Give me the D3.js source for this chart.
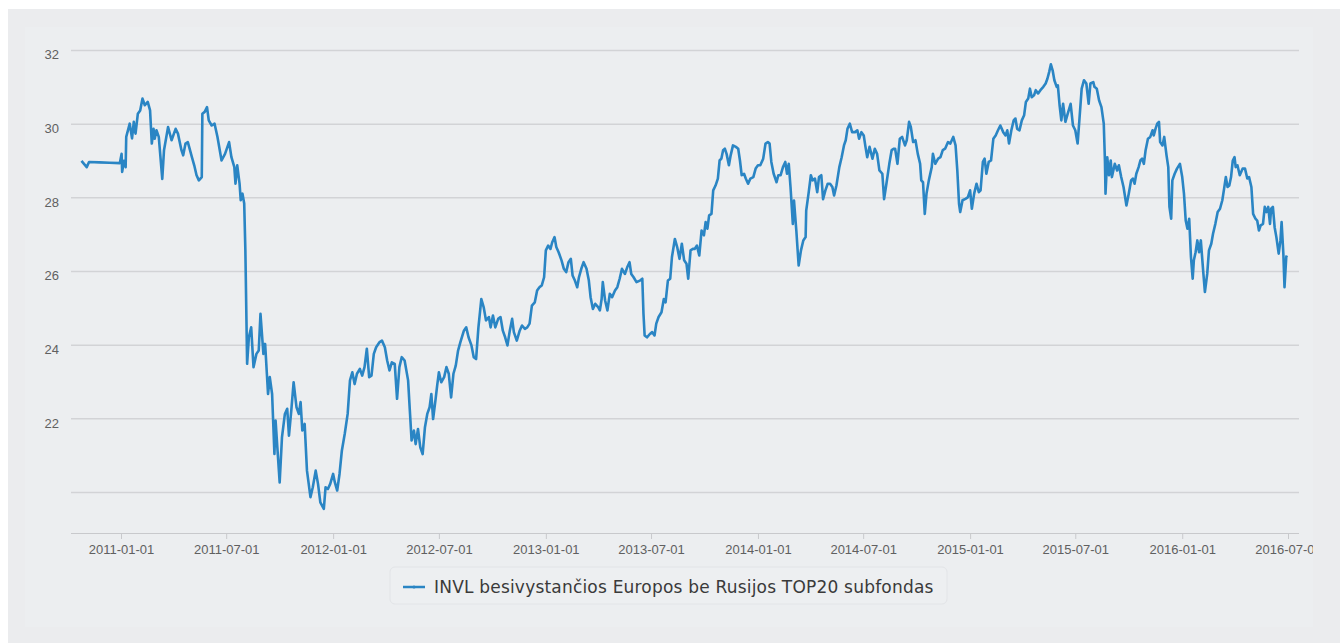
<!DOCTYPE html>
<html>
<head>
<meta charset="utf-8">
<script src="https://cdn.jsdelivr.net/npm/d3@7"></script>
<style>
  body { margin: 0; background: #fff; }
  svg { display: block; }
  .grid line { stroke: #d2d3d6; stroke-width: 1.5; }
  .grid text, .xaxis text { fill: #606060; font-family: "Liberation Sans", Arial, sans-serif; font-size: 13px; }
  .xaxis line { stroke: #c8c9cc; }
</style>
</head>
<body>
<svg id="chart" width="1340" height="643"></svg>
<script>
// one series
const seriesName = "INVL besivystančios Europos be Rusijos TOP20 subfondas";

const dates = [
  "2010-10-25","2010-11-03","2010-11-07","2010-11-25","2010-12-12","2010-12-30",
  "2011-01-02","2011-01-03","2011-01-06","2011-01-09","2011-01-10","2011-01-16","2011-01-20","2011-01-23","2011-01-26","2011-01-30",
  "2011-02-03","2011-02-07","2011-02-11","2011-02-16","2011-02-20","2011-02-23","2011-02-26","2011-02-28",
  "2011-03-03","2011-03-07","2011-03-13","2011-03-16","2011-03-23","2011-03-29",
  "2011-04-05","2011-04-09","2011-04-15","2011-04-18","2011-04-22","2011-04-26",
  "2011-05-03","2011-05-07","2011-05-11","2011-05-15","2011-05-20","2011-05-21","2011-05-25","2011-05-29",
  "2011-06-01","2011-06-06","2011-06-11","2011-06-16","2011-06-23","2011-06-29",
  "2011-07-06","2011-07-10","2011-07-15","2011-07-17","2011-07-20","2011-07-24","2011-07-26","2011-07-29",
  "2011-08-01","2011-08-03","2011-08-06","2011-08-09","2011-08-13","2011-08-17","2011-08-22","2011-08-26","2011-08-29",
  "2011-09-03","2011-09-06","2011-09-09","2011-09-11","2011-09-14","2011-09-18","2011-09-22","2011-09-24","2011-09-27",
  "2011-10-01","2011-10-05","2011-10-10","2011-10-14","2011-10-17","2011-10-21","2011-10-25","2011-10-30",
  "2011-11-03","2011-11-06","2011-11-09","2011-11-13","2011-11-17","2011-11-23","2011-11-27",
  "2011-12-02","2011-12-06","2011-12-10","2011-12-16","2011-12-19","2011-12-23","2011-12-27",
  "2012-01-01","2012-01-04","2012-01-08","2012-01-12","2012-01-16","2012-01-21","2012-01-26","2012-01-30",
  "2012-02-03","2012-02-07","2012-02-11","2012-02-16","2012-02-20","2012-02-24","2012-02-28",
  "2012-03-03","2012-03-07","2012-03-11","2012-03-15","2012-03-21","2012-03-25","2012-03-30",
  "2012-04-03","2012-04-07","2012-04-11","2012-04-16","2012-04-20","2012-04-24","2012-04-28",
  "2012-05-03","2012-05-09","2012-05-12","2012-05-15","2012-05-19","2012-05-22","2012-05-26","2012-05-30",
  "2012-06-03","2012-06-07","2012-06-11","2012-06-15","2012-06-18","2012-06-21","2012-06-25","2012-06-28",
  "2012-07-01","2012-07-05","2012-07-10","2012-07-14","2012-07-18","2012-07-22","2012-07-26","2012-07-30",
  "2012-08-03","2012-08-07","2012-08-13","2012-08-17","2012-08-21","2012-08-26","2012-08-30",
  "2012-09-03","2012-09-07","2012-09-12","2012-09-16","2012-09-20","2012-09-25","2012-09-28",
  "2012-10-02","2012-10-06","2012-10-11","2012-10-15","2012-10-19","2012-10-23","2012-10-27","2012-10-31",
  "2012-11-04","2012-11-07","2012-11-12","2012-11-17","2012-11-21","2012-11-26","2012-11-30",
  "2012-12-04","2012-12-08","2012-12-13","2012-12-17","2012-12-21","2012-12-25","2012-12-29",
  "2013-01-01","2013-01-05","2013-01-09","2013-01-12","2013-01-16","2013-01-19","2013-01-23","2013-01-28",
  "2013-02-01","2013-02-05","2013-02-09","2013-02-13","2013-02-16","2013-02-20","2013-02-24","2013-02-27",
  "2013-03-03","2013-03-07","2013-03-12","2013-03-16","2013-03-19","2013-03-23","2013-03-27",
  "2013-04-01","2013-04-04","2013-04-07","2013-04-09","2013-04-13","2013-04-17","2013-04-21","2013-04-25","2013-04-30",
  "2013-05-04","2013-05-08","2013-05-12","2013-05-17","2013-05-21","2013-05-25","2013-05-28",
  "2013-06-01","2013-06-06","2013-06-12","2013-06-16","2013-06-18","2013-06-20","2013-06-24","2013-06-29",
  "2013-07-03","2013-07-07","2013-07-10","2013-07-14","2013-07-19","2013-07-23","2013-07-26","2013-07-30",
  "2013-08-03","2013-08-06","2013-08-11","2013-08-15","2013-08-19","2013-08-23","2013-08-27","2013-08-31",
  "2013-09-03","2013-09-07","2013-09-11","2013-09-14","2013-09-18","2013-09-22","2013-09-26","2013-09-30",
  "2013-10-03","2013-10-06","2013-10-09","2013-10-13","2013-10-16","2013-10-20","2013-10-24","2013-10-27","2013-10-30",
  "2013-11-02","2013-11-05","2013-11-08","2013-11-12","2013-11-15","2013-11-19","2013-11-24","2013-11-28",
  "2013-12-01","2013-12-04","2013-12-08","2013-12-11","2013-12-15","2013-12-19","2013-12-24","2013-12-28",
  "2014-01-01","2014-01-05","2014-01-10","2014-01-14","2014-01-18","2014-01-21","2014-01-24","2014-01-28",
  "2014-02-02","2014-02-05","2014-02-09","2014-02-13","2014-02-17","2014-02-20","2014-02-23","2014-02-26",
  "2014-03-02","2014-03-04","2014-03-08","2014-03-12","2014-03-16","2014-03-20","2014-03-24","2014-03-25","2014-03-29",
  "2014-04-02","2014-04-05","2014-04-09","2014-04-13","2014-04-16","2014-04-20","2014-04-23","2014-04-27",
  "2014-05-01","2014-05-05","2014-05-09","2014-05-12","2014-05-16","2014-05-21","2014-05-25","2014-05-29",
  "2014-06-01","2014-06-04","2014-06-08","2014-06-12","2014-06-17","2014-06-21","2014-06-24","2014-06-28",
  "2014-07-02","2014-07-05","2014-07-08","2014-07-12","2014-07-17","2014-07-21","2014-07-25","2014-07-29",
  "2014-08-03","2014-08-06","2014-08-10","2014-08-15","2014-08-19","2014-08-23","2014-08-25","2014-08-29",
  "2014-09-02","2014-09-06","2014-09-11","2014-09-14","2014-09-18","2014-09-21","2014-09-25","2014-09-29",
  "2014-10-03","2014-10-07","2014-10-09","2014-10-12","2014-10-15","2014-10-18","2014-10-22","2014-10-27","2014-10-29",
  "2014-11-02","2014-11-07","2014-11-11","2014-11-15","2014-11-19","2014-11-24","2014-11-28",
  "2014-12-03","2014-12-07","2014-12-10","2014-12-13","2014-12-15","2014-12-19","2014-12-24","2014-12-28",
  "2015-01-01","2015-01-04","2015-01-08","2015-01-12","2015-01-16","2015-01-19","2015-01-23","2015-01-26","2015-01-29",
  "2015-02-02","2015-02-06","2015-02-10","2015-02-14","2015-02-18","2015-02-22","2015-02-27",
  "2015-03-03","2015-03-06","2015-03-09","2015-03-13","2015-03-17","2015-03-20","2015-03-23","2015-03-27","2015-03-31",
  "2015-04-04","2015-04-07","2015-04-11","2015-04-14","2015-04-17","2015-04-21","2015-04-24","2015-04-28",
  "2015-05-02","2015-05-07","2015-05-11","2015-05-14","2015-05-17","2015-05-20","2015-05-23","2015-05-26","2015-05-30",
  "2015-06-01","2015-06-04","2015-06-07","2015-06-10","2015-06-14","2015-06-18","2015-06-23","2015-06-27",
  "2015-07-01","2015-07-05","2015-07-08","2015-07-12","2015-07-16","2015-07-20","2015-07-24","2015-07-27",
  "2015-08-01","2015-08-03","2015-08-07","2015-08-11","2015-08-15","2015-08-19","2015-08-21","2015-08-22","2015-08-25","2015-08-28","2015-08-31",
  "2015-09-02","2015-09-07","2015-09-11","2015-09-14","2015-09-18","2015-09-22","2015-09-27",
  "2015-10-01","2015-10-05","2015-10-08","2015-10-11","2015-10-14","2015-10-18","2015-10-21","2015-10-24","2015-10-27","2015-10-30",
  "2015-11-03","2015-11-07","2015-11-11","2015-11-13","2015-11-16","2015-11-19","2015-11-22","2015-11-24","2015-11-28",
  "2015-12-01","2015-12-05","2015-12-08","2015-12-10","2015-12-13","2015-12-15","2015-12-19","2015-12-23","2015-12-28",
  "2016-01-01","2016-01-04","2016-01-07","2016-01-10","2016-01-13","2016-01-16","2016-01-19","2016-01-21","2016-01-24","2016-01-27","2016-01-30",
  "2016-02-02","2016-02-06","2016-02-09","2016-02-13","2016-02-16","2016-02-20","2016-02-23","2016-02-27",
  "2016-03-02","2016-03-06","2016-03-10","2016-03-13","2016-03-16","2016-03-19","2016-03-22","2016-03-25","2016-03-28","2016-03-31",
  "2016-04-02","2016-04-05","2016-04-09","2016-04-14","2016-04-18","2016-04-22","2016-04-25","2016-04-29",
  "2016-05-02","2016-05-06","2016-05-09","2016-05-12","2016-05-15","2016-05-19","2016-05-22","2016-05-25","2016-05-28","2016-05-31",
  "2016-06-02","2016-06-05","2016-06-08","2016-06-11","2016-06-15","2016-06-18","2016-06-20","2016-06-23","2016-06-25","2016-06-28","2016-06-29"
];

const values = [
  28.99,28.82,28.96,28.95,28.94,28.93,
  29.18,28.69,28.99,28.82,29.64,30.0,29.6,30.05,29.73,30.27,
  30.36,30.68,30.5,30.59,30.36,29.46,29.86,29.59,
  29.82,29.64,28.5,29.28,29.91,29.55,
  29.86,29.73,29.28,29.14,29.46,29.5,
  29.09,28.87,28.6,28.46,28.55,30.27,30.32,30.45,
  30.09,29.95,30.0,29.64,29.0,29.18,
  29.5,29.09,28.82,28.37,28.87,28.37,27.92,28.1,
  27.83,26.56,23.48,24.2,24.47,23.39,23.75,23.84,24.84,
  23.75,24.02,23.21,22.66,23.12,22.66,21.03,21.94,21.21,
  20.26,21.49,22.12,22.26,21.53,22.21,22.98,22.3,
  22.12,22.44,21.67,21.85,20.58,19.86,20.13,
  20.58,20.22,19.72,19.54,20.13,20.08,20.22,
  20.49,20.26,20.04,20.49,21.12,21.58,22.12,23.03,
  23.25,22.93,23.21,23.34,23.16,23.39,23.89,
  23.12,23.16,23.75,23.93,24.07,24.11,23.93,
  23.57,23.3,23.52,23.48,22.53,23.39,23.66,
  23.57,23.03,22.21,21.4,21.67,21.3,21.71,21.21,
  21.03,21.76,22.12,22.3,22.66,21.98,22.48,22.89,
  23.25,22.98,23.12,23.39,23.21,22.57,23.21,23.43,
  23.84,24.07,24.38,24.47,24.2,23.98,23.66,
  23.61,24.47,25.24,25.02,24.66,24.75,24.47,
  24.79,24.47,24.7,24.75,24.38,24.2,23.98,24.38,
  24.7,24.34,24.11,24.38,24.52,24.43,24.47,
  24.57,25.06,25.15,25.47,25.56,25.61,25.83,
  26.56,26.69,26.6,26.78,26.92,26.65,26.51,26.29,
  26.06,25.97,26.24,26.33,25.88,25.74,25.56,25.83,
  26.06,26.24,26.06,25.74,25.29,24.97,25.11,
  25.02,24.93,25.24,25.7,25.2,24.93,25.38,25.29,25.47,
  25.56,25.79,26.06,25.92,26.1,26.24,25.92,
  25.83,25.7,25.74,25.79,24.84,24.25,24.2,24.29,
  24.34,24.25,24.57,24.75,24.88,25.24,25.15,25.74,
  25.79,26.38,26.87,26.65,26.33,26.74,26.29,26.2,
  25.79,26.56,26.6,26.6,26.69,26.42,27.1,26.97,
  27.33,27.15,27.51,27.55,28.19,28.32,28.51,29.0,29.05,
  29.28,29.32,29.18,28.87,29.14,29.41,29.37,29.32,
  29.0,28.6,28.64,28.51,28.37,28.51,28.55,28.78,
  28.87,28.87,29.05,29.46,29.5,29.46,28.96,28.64,
  28.41,28.6,28.6,28.82,28.96,28.64,28.91,28.28,
  27.28,27.91,27.1,26.15,26.56,26.83,26.92,27.64,28.1,
  28.6,28.46,28.51,28.14,28.55,28.6,27.95,28.19,
  28.37,28.37,28.28,28.05,28.32,28.82,29.09,29.41,
  29.55,29.86,30.0,29.77,29.77,29.82,29.59,29.77,
  29.68,29.37,29.09,29.37,29.05,29.32,29.18,28.73,
  28.64,27.95,28.37,28.91,29.28,29.32,29.32,28.91,
  29.59,29.64,29.41,29.55,30.05,29.91,29.5,29.55,
  29.18,28.91,28.46,28.41,27.55,28.1,28.46,28.82,29.18,
  28.91,29.05,29.09,29.28,29.32,29.5,29.46,
  29.64,29.41,28.73,27.82,27.6,27.92,27.96,28.0,
  28.19,27.69,28.1,28.37,28.14,28.19,28.96,29.05,28.64,
  28.96,29.0,29.59,29.68,29.82,29.95,29.77,
  29.68,29.82,29.46,29.82,30.09,30.14,29.86,29.82,30.09,
  30.23,30.59,30.68,30.95,30.72,30.77,30.91,30.82,
  30.91,31.0,31.09,31.22,31.4,31.61,31.45,31.18,31.0,
  31.04,30.5,30.09,30.54,30.05,30.27,30.54,29.95,
  29.82,29.46,30.09,30.95,31.18,31.09,30.54,31.09,
  31.13,31.0,30.95,30.63,30.45,30.0,29.0,28.1,29.09,28.6,29.0,
  28.55,28.91,28.73,28.87,28.55,28.28,27.78,
  28.1,28.46,28.51,28.37,28.64,28.82,29.0,29.05,28.91,29.28,
  29.59,29.64,29.82,29.68,29.86,30.0,30.05,29.5,29.41,
  29.64,29.14,28.82,27.74,27.42,28.46,28.64,28.78,28.91,
  28.55,28.1,27.37,27.15,27.42,26.38,25.79,26.29,26.51,26.83,26.51,
  26.83,26.01,25.43,25.92,26.56,26.74,27.01,27.28,
  27.6,27.69,27.92,28.23,28.55,28.28,28.32,28.55,29.0,29.09,
  28.82,28.87,28.6,28.78,28.78,28.51,28.55,28.28,
  27.55,27.42,27.37,27.1,27.24,27.28,27.74,27.6,27.74,27.28,
  27.69,27.74,27.19,26.92,26.47,26.83,27.33,26.47,25.56,26.38,26.42
];

const xTickLabels = ["2011-01-01","2011-07-01","2012-01-01","2012-07-01","2013-01-01","2013-07-01",
  "2014-01-01","2014-07-01","2015-01-01","2015-07-01","2016-01-01","2016-07-01"];
const yGrid = [20, 22, 24, 26, 28, 30, 32];
const yLabels = [22, 24, 26, 28, 30, 32];

const parse = d3.utcParse("%Y-%m-%d");
const data = dates.map((d, i) => ({date: parse(d), value: values[i]}));

const svg = d3.select("#chart");

// backgrounds
svg.append("rect").attr("x", 8).attr("y", 9).attr("width", 1332).attr("height", 634).attr("fill", "#ebecee");
svg.append("rect").attr("x", 25).attr("y", 27).attr("width", 1288).attr("height", 600).attr("fill", "#eceef0");

const plotLeft = 71, plotRight = 1299, axisY = 533;

// x scale pinned so 2011-01-01 and 2016-07-01 land on their ticks
const anchor = d3.scaleUtc().domain([parse("2011-01-01"), parse("2016-07-01")]).range([121, 1288]);
const x = d3.scaleUtc().domain([anchor.invert(plotLeft), anchor.invert(plotRight)]).range([plotLeft, plotRight]);
const y = d3.scaleLinear().domain([20, 32]).range([492, 50]);

svg.append("defs").append("clipPath").attr("id", "clip")
  .append("rect").attr("x", 25).attr("y", 27).attr("width", 1288).attr("height", 600);

const grid = svg.append("g").attr("class", "grid")
  .attr("transform", `translate(${plotLeft},0)`)
  .call(d3.axisLeft(y)
    .tickValues(yGrid)
    .tickSize(-(plotRight - plotLeft))
    .tickPadding(12)
    .tickFormat(d => yLabels.includes(d) ? d : ""));
grid.select(".domain").remove();
grid.selectAll("text").attr("y", 4.5);

// wrapper carries the clip so the last label is cut at the panel edge
const xaxis = svg.append("g").attr("clip-path", "url(#clip)")
  .append("g").attr("class", "xaxis")
  .attr("transform", `translate(0,${axisY})`)
  .call(d3.axisBottom(x)
    .tickValues(xTickLabels.map(parse))
    .tickSize(6)
    .tickPadding(6)
    .tickFormat(d3.utcFormat("%Y-%m-%d")));
xaxis.select(".domain").attr("stroke", "#c8c9cc").attr("d", `M${plotLeft},0.5H${plotRight}`);

const line = d3.line()
  .x(d => x(d.date))
  .y(d => y(d.value));

svg.append("path")
  .datum(data)
  .attr("fill", "none")
  .attr("stroke", "#2a85c4")
  .attr("stroke-width", 2.6)
  .attr("stroke-linejoin", "round")
  .attr("d", line);

// legend
const legend = svg.append("g");
legend.append("rect")
  .attr("x", 390).attr("y", 567).attr("width", 557).attr("height", 37).attr("rx", 5)
  .attr("fill", "#edeff1").attr("stroke", "#e2e4e7");
legend.append("line")
  .attr("x1", 403).attr("x2", 425).attr("y1", 587).attr("y2", 587)
  .attr("stroke", "#2a85c4").attr("stroke-width", 2.5);
legend.append("circle").attr("cx", 414).attr("cy", 587).attr("r", 1.5).attr("fill", "#2a85c4");
legend.append("text")
  .attr("x", 434).attr("y", 593)
  .attr("fill", "#3a3a3a")
  .style("font-family", "'DejaVu Sans', sans-serif")
  .style("font-size", "17px")
  .style("letter-spacing", "0.2px")
  .text(seriesName);
</script>
</body>
</html>
